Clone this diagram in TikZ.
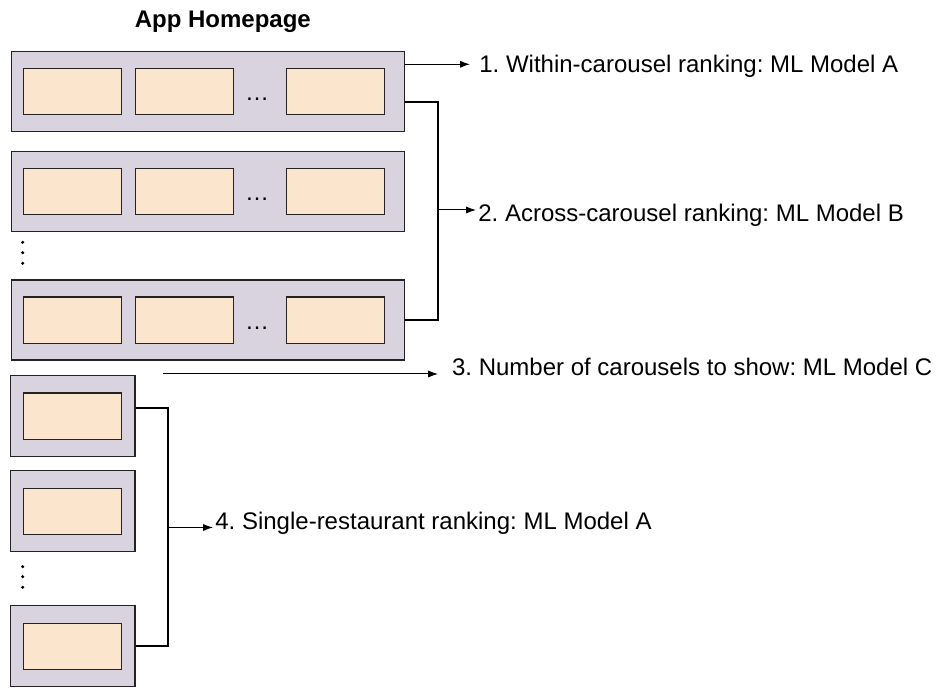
\documentclass[tikz,border=0pt]{standalone}
\usepackage{fontspec}
\setmainfont{Liberation Sans}
\usetikzlibrary{arrows.meta}
\definecolor{outerfill}{RGB}{217,211,224}
\definecolor{innerfill}{RGB}{252,229,205}
\definecolor{edge}{RGB}{35,35,35}
\frenchspacing
\begin{document}
\begin{tikzpicture}[x=0.5pt,y=-0.5pt,
 outerbox/.style={draw=edge,fill=outerfill,line width=0.65pt,inner sep=0,anchor=north west},
 carousel/.style={outerbox,minimum width=196.7pt,minimum height=40pt},
 single/.style={outerbox,minimum width=62.2pt,minimum height=40.5pt},
 card/.style={draw=edge,fill=innerfill,line width=0.65pt,inner sep=0,anchor=north west,minimum width=49pt,minimum height=23.2pt},
 lbl/.style={anchor=base west,inner sep=0,font=\fontsize{12}{14}\selectfont},
 ell/.style={anchor=base,inner sep=0,font=\fontsize{12}{14}\selectfont},
 arr/.style={-{Latex[length=5pt,width=3.6pt]},line width=0.5pt},
 brk/.style={line width=1pt},
 dotmark/.style={circle,fill=black,inner sep=0,minimum size=1.7pt}
]
\useasboundingbox (0,0) rectangle (938,688);

% title
\node[font=\bfseries\fontsize{12}{14}\selectfont,anchor=base,inner sep=0] (title) at (222.8,27.7) {App Homepage};

% carousels
\foreach \t/\n in {50.7/1,150.7/2,279.3/3}{
  \node[carousel] (c\n) at (10.7,\t) {};
  \node[card] (c\n-a) at (23,\t+17) {};
  \node[card] (c\n-b) at (134.7,\t+17) {};
  \node[card] (c\n-c) at (285.7,\t+17) {};
  \node[ell] (c\n-dots) at (257,\t+49.8) {…};
}

% single restaurant boxes
\foreach \t/\n in {374.7/1,470/2,605/3}{
  \node[single] (s\n) at (10,\t) {};
  \node[card] (s\n-a) at (23,\t+17.7) {};
}

% vertical dots
\foreach \y in {242.3,252.7,263.3,566.7,576.7,587.3}{
  \node[dotmark] at (22.7,\y) {};
}

% labels
\node[lbl] (l1) at (479,72.3) {1. Within-carousel ranking: ML Model A};
\node[lbl] (l2) at (478,221.7) {2. Across-carousel ranking: ML Model B};
\node[lbl] (l3) at (451.7,376) {3. Number of carousels to show: ML Model C};
\node[lbl] (l4) at (215,529.3) {4. Single-restaurant ranking: ML Model A};

% connector 1
\coordinate (a1) at (470,64.3);
\draw[arr] (c1.east |- a1) -- (a1);

% connector 2
\coordinate (b2top) at (404,102.3);
\coordinate (j2) at (437.7,210);
\coordinate (a2) at (476,210);
\draw[brk] (c1.east |- b2top) -- (b2top -| j2) -- (j2 |- c3.east) -- (c3.east);
\draw[arr] (j2) -- (a2);

% connector 3
\coordinate (a3s) at (163,374);
\coordinate (a3) at (438,374);
\draw[arr] (a3s) -- (a3);

% connector 4
\coordinate (b4top) at (134.3,407.7);
\coordinate (j4) at (168.3,527.5);
\coordinate (a4) at (213,527.5);
\draw[brk] (s1.east |- b4top) -- (b4top -| j4) -- (j4 |- s3.east) -- (s3.east);
\draw[arr] (j4) -- (a4);
\end{tikzpicture}
\end{document}
